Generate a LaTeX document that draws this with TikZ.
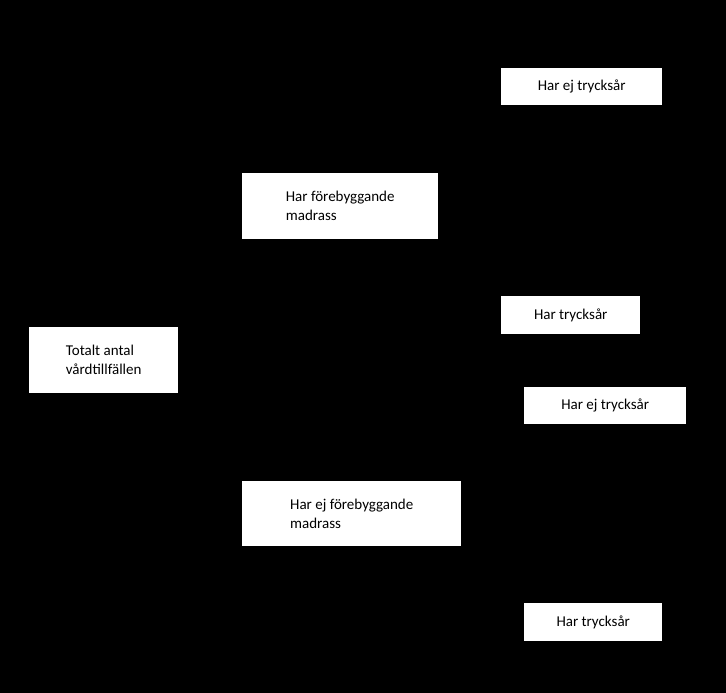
\documentclass[tikz,border=0pt]{standalone}
\usepackage{fontspec}
\setmainfont{Carlito}
\begin{document}
\begin{tikzpicture}[x=1pt,y=-1pt,
  box/.style={fill=white,draw=none,anchor=north west,inner xsep=12pt,inner ysep=0pt,align=left,font=\fontsize{15}{19}\selectfont,text=black}]
\fill[black] (0,0) rectangle (726,693);
\useasboundingbox (0,0) rectangle (726,693);
\node[box,minimum width=161pt,minimum height=37pt] (a) at (501,68) {Har ej trycksår};
\node[box,minimum width=196pt,minimum height=66pt] (b) at (242,173) {Har förebyggande\\madrass};
\node[box,minimum width=139pt,minimum height=38pt] (c) at (501,296) {Har trycksår};
\node[box,minimum width=149pt,minimum height=66pt] (t) at (29,327) {Totalt antal\\vårdtillfällen};
\node[box,minimum width=162pt,minimum height=37pt] (d) at (524,387) {Har ej trycksår};
\node[box,minimum width=219pt,minimum height=65pt] (e) at (242,481) {Har ej förebyggande\\madrass};
\node[box,minimum width=138pt,minimum height=38pt] (f) at (524,603) {Har trycksår};
\end{tikzpicture}
\end{document}
